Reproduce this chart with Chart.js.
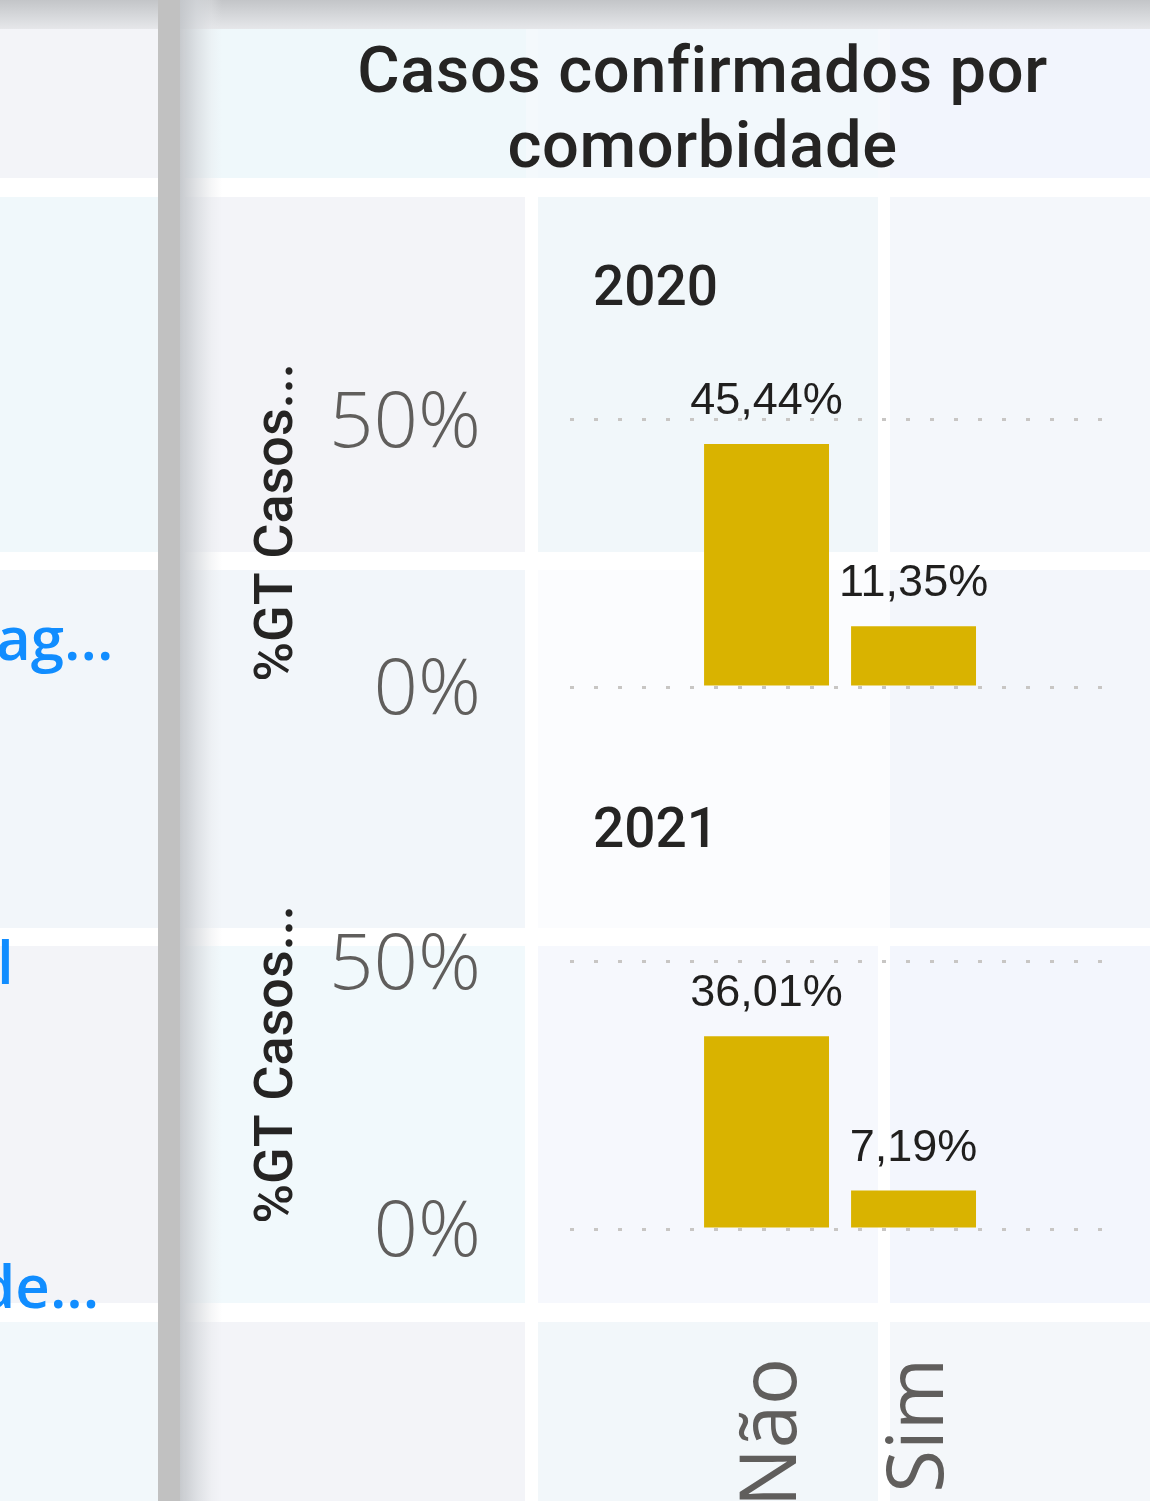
<!DOCTYPE html>
<html><head><meta charset="utf-8">
<script src="https://cdn.jsdelivr.net/npm/chart.js@4.4.0/dist/chart.umd.min.js"></script>
<style>
html,body{margin:0;padding:0;width:1150px;height:1501px;overflow:hidden;background:#ffffff;}
.bg{position:absolute;}
.txt{position:absolute;white-space:nowrap;margin:0;}
canvas{position:absolute;left:0;}
</style></head><body>
<div id="bgs"></div>
<div class="txt" id="title" style="left:255px;top:33px;width:895px;text-align:center;font-family:Roboto;font-weight:500;font-size:65px;line-height:75px;letter-spacing:0.6px;color:#252423;"></div>
<div class="txt" id="year0" style="left:593px;top:259px;font-family:Roboto;font-weight:500;font-size:55px;line-height:55px;color:#252423;"></div>
<div class="txt" id="year1" style="left:593px;top:801px;font-family:Roboto;font-weight:500;font-size:55px;line-height:55px;color:#252423;"></div>
<div class="txt" style="left:-4px;top:607px;font-family:'Open Sans';font-weight:600;font-size:60px;line-height:60px;color:#118DFF;">ag...</div>
<div class="txt" style="left:-3px;top:931px;font-family:'Open Sans';font-weight:600;font-size:60px;line-height:60px;color:#118DFF;">l</div>
<div class="txt" style="left:-22px;top:1255px;font-family:'Open Sans';font-weight:600;font-size:60px;line-height:60px;color:#118DFF;">de...</div>
<canvas id="c2020" width="1150" height="560" style="top:190px;width:1150px;height:560px;"></canvas>
<canvas id="c2021" width="1150" height="797" style="top:732px;width:1150px;height:797px;"></canvas>
<script>
// ---- data ----
const chartTitle = ['Casos confirmados por', 'comorbidade'];
const categories = ['Não', 'Sim'];
const years = ['2020', '2021'];
const values2020 = [45.44, 11.35];
const values2021 = [36.01, 7.19];
const yTickValues = [0, 50];
const yAxisTitle = '%GT Casos...';

// ---- background panels (layout only) ----
const cells = [
  [0,158,29,178,'#f3f4f8'],[185,526,29,178,'#eff8fb'],[526,538,29,178,'#f4f9fc'],[538,878,29,178,'#f2f8fc'],[878,890,29,178,'#f5f8fc'],[890,1150,29,178,'#f2f5fd'],
  [0,158,197,552,'#f0f8fb'],[185,525,197,552,'#f3f4f8'],[538,878,197,552,'#f1f7fa'],[890,1150,197,552,'#f4f7fb'],
  [0,158,570,928,'#f2f6fa'],[185,525,570,928,'#f2f6fa'],[538,890,570,928,'#fbfcfe'],[890,1150,570,928,'#f3f6fb'],
  [0,158,946,1303,'#f3f4f8'],[185,525,946,1303,'#f1f9fc'],[538,878,946,1303,'#f6f8fd'],[890,1150,946,1303,'#f3f6fd'],
  [0,158,1322,1501,'#f2f8fb'],[185,525,1322,1501,'#f3f4f8'],[538,878,1322,1501,'#f2f7fa'],[890,1150,1322,1501,'#f4f7fa']
];
const bgs = document.getElementById('bgs');
function addBg(x0,x1,y0,y1,bg){
  const d = document.createElement('div'); d.className='bg';
  d.style.left=x0+'px'; d.style.top=y0+'px'; d.style.width=(x1-x0)+'px'; d.style.height=(y1-y0)+'px'; d.style.background=bg;
  bgs.appendChild(d);
}
cells.forEach(c => addBg(...c));
addBg(0,1150,0,29,'linear-gradient(to bottom,#c3c5c8 0%,#d6d8db 55%,#e6e7ea 100%)');
addBg(158,180,0,1501,'#c1c1c1');
addBg(180,222,0,1501,'linear-gradient(to right,rgba(196,199,203,0.95) 0%,rgba(212,215,219,0.7) 40%,rgba(228,230,233,0.35) 75%,rgba(240,242,245,0) 100%)');

// ---- texts ----
document.getElementById('title').innerHTML = chartTitle.join('<br>');
document.getElementById('year0').textContent = years[0];
document.getElementById('year1').textContent = years[1];

// ---- charts ----
const fmt = v => v.toFixed(2).replace('.', ',') + '%';
const labelPlugin = {
  id: 'barLabels',
  afterDatasetsDraw(chart) {
    const ctx = chart.ctx;
    const meta = chart.getDatasetMeta(0);
    const vals = chart.data.datasets[0].data;
    ctx.save();
    ctx.font = '45px "Liberation Sans", Arial, sans-serif';
    ctx.fillStyle = '#201F1E';
    ctx.textAlign = 'center';
    ctx.textBaseline = 'alphabetic';
    meta.data.forEach((bar, i) => ctx.fillText(fmt(vals[i].y), bar.x, bar.y - 30));
    ctx.restore();
  }
};

function makeChart(id, values, showX) {
  return new Chart(document.getElementById(id), {
    type: 'bar',
    data: {
      datasets: [{
        data: values.map((v, i) => ({ x: i, y: v })),
        backgroundColor: '#D9B300',
        barPercentage: 0.85,
        categoryPercentage: 1
      }]
    },
    options: {
      responsive: false,
      animation: false,
      devicePixelRatio: 1,
      layout: { padding: { left: 230, right: 48, top: 168, bottom: showX ? 0 : 63 } },
      plugins: { legend: { display: false }, tooltip: { enabled: false }, title: { display: false } },
      scales: {
        x: {
          type: 'linear', min: -1.337, max: 2.282, offset: false, display: showX,
          grid: { display: false, drawTicks: false, offset: false },
          border: { display: false },
          afterBuildTicks: s => { s.ticks = categories.map((c, i) => ({ value: i })); },
          afterFit: s => { if (showX) s.height = 300; s.paddingLeft = 0; s.paddingRight = 0; },
          ticks: {
            autoSkip: false, minRotation: 90, maxRotation: 90, padding: 129, labelOffset: 7,
            color: '#605E5C', font: { family: 'Open Sans', size: 78, weight: 400 },
            callback: v => categories[v]
          }
        },
        y: {
          min: 0, max: 61.5, position: 'left',
          afterBuildTicks: s => { s.ticks = yTickValues.map(v => ({ value: v })); },
          afterFit: s => { s.width = 340; s.paddingTop = 0; s.paddingBottom = 0; },
          grid: { color: '#C8C6C4', lineWidth: 3, drawTicks: false },
          border: { display: false, dash: [4, 20] },
          ticks: {
            padding: 89, color: '#605E5C',
            font: { family: 'Open Sans', size: 78, weight: 300, lineHeight: '10px' },
            callback: v => ['', v + '%']
          },
          title: {
            display: true, text: yAxisTitle, color: '#252423',
            font: { family: 'Roboto', size: 54, weight: 500 }, padding: { top: 16, bottom: 0 }
          }
        }
      }
    },
    plugins: [labelPlugin]
  });
}
makeChart('c2020', values2020, false);
makeChart('c2021', values2021, true);
</script>
</body></html>
